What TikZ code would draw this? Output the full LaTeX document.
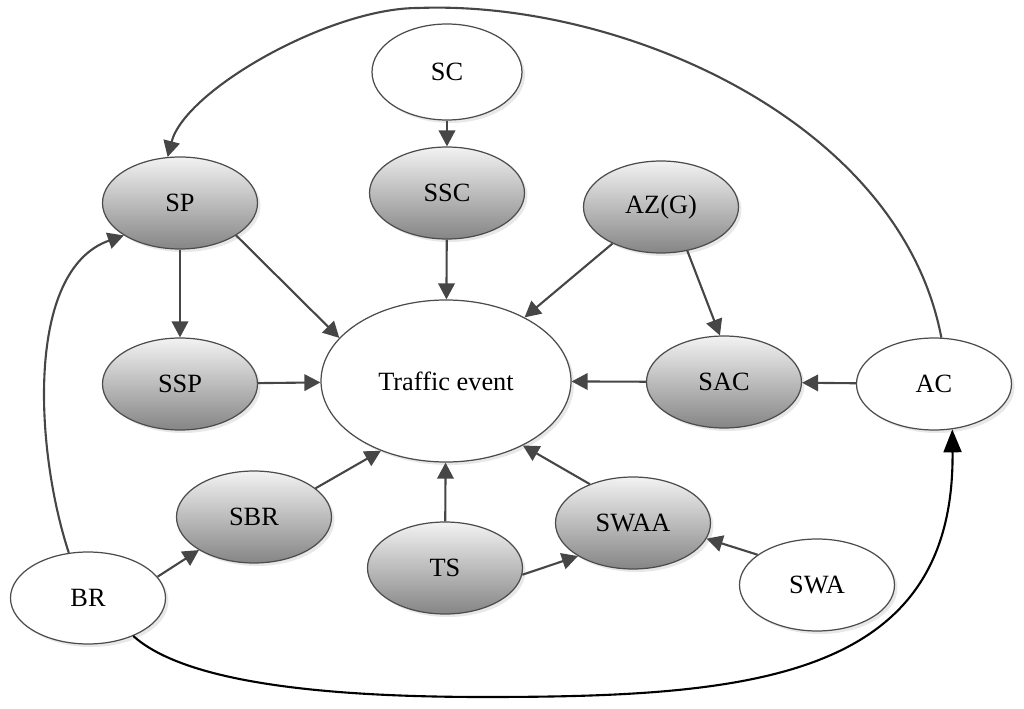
\documentclass[tikz,border=0pt]{standalone}
\usepackage{fontspec}
\setmainfont{Liberation Serif}
\usetikzlibrary{arrows.meta,shapes.geometric,shadows}

\begin{document}
\begin{tikzpicture}[
  every node/.style={font=\fontsize{15}{18}\selectfont},
  var/.style={ellipse,draw=gray!60!black,line width=0.7pt,minimum width=3.1cm,minimum height=1.84cm,inner sep=0pt,fill=white,
    drop shadow={opacity=0.18,shadow xshift=0.6mm,shadow yshift=-0.6mm}},
  hid/.style={var,top color=gray!10,bottom color=gray!90!white!95!black,shading angle=0},
  lnk/.style={color=gray!55!black,line width=1.2pt,-{Triangle[length=3.2mm,width=3.3mm]}},
  blk/.style={color=black,line width=1.2pt,-{Triangle[length=4.6mm,width=3.6mm]}}]
\useasboundingbox (0,0) rectangle (20.48,14.16);
\node[var,minimum width=3cm,minimum height=1.92cm] (SC) at (8.94,12.72) {SC};
\node[hid] (SSC) at (8.94,10.3) {SSC};
\node[hid] (SP) at (3.6,10.1) {SP};
\node[hid] (SSP) at (3.6,6.48) {SSP};
\node[hid] (AZ) at (13.22,10.02) {AZ(G)};
\node[var,minimum width=5cm,minimum height=3.24cm] (TE) at (8.92,6.54) {Traffic event};
\node[hid] (SAC) at (14.48,6.52) {SAC};
\node[var] (AC) at (18.68,6.48) {AC};
\node[hid] (SBR) at (5.08,3.82) {SBR};
\node[hid] (TS) at (8.9,2.8) {TS};
\node[hid] (SWAA) at (12.66,3.7) {SWAA};
\node[var] (SWA) at (16.34,2.46) {SWA};
\node[var] (BR) at (1.76,2.2) {BR};
\path[lnk]
(SC) edge (SSC)
(SSC) edge (TE)
(SP) edge (SSP)
(SP.-30) edge (TE.158)
(SSP) edge (TE)
(AZ.217) edge (TE.39)
(AZ.-59) edge (SAC.95)
(SAC) edge (TE)
(AC) edge (SAC)
(SBR.25) edge (TE.-133)
(TS) edge (TE)
(SWAA.138) edge (TE.-40)
(TS.-5) edge (SWAA.211)
(SWA.153) edge (SWAA.-12)
(BR.17) edge (SBR.211);
% long links
\draw[lnk] (AC.81) .. controls (18,11.76) and (12.4,14.16) .. (8.36,14) .. controls (6.6,14) and (3.7,12.36) .. (SP.105);
\draw[lnk] (BR.113) .. controls (0.7,5.16) and (0.5,8.76) .. (SP.210);
\draw[blk] (BR.-40) .. controls (3.6,0.6) and (6,0.22) .. (9.68,0.22) .. controls (15,0.22) and (19.1,0.56) .. (AC.-68);
\end{tikzpicture}
\end{document}
